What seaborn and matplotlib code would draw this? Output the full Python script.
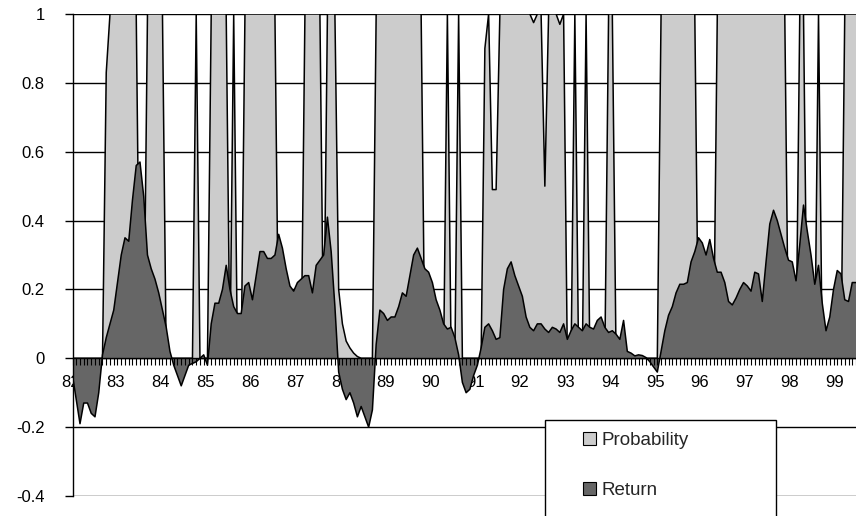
import numpy as np
import pandas as pd
import matplotlib
matplotlib.use("Agg")
import matplotlib.pyplot as plt
import seaborn as sns
from matplotlib.patches import Patch, Rectangle

sns.set_theme(style="white")
plt.rcParams['font.family'] = ['Liberation Sans', 'DejaVu Sans']

# Year labels shown along the category axis (one every 12 months, Jan 1982 onward)
year_labels = ["82", "83", "84", "85", "86", "87", "88", "89", "90",
               "91", "92", "93", "94", "95", "96", "97", "98", "99"]

# Monthly regime probability, Jan 1982 - Jun 1999
probability = [
    0, 0, 0, 0, 0, 0, 0, 0, 0, 0.83,                 # 0-9
    1, 1, 1, 1, 1, 1, 1, 1, 0, 0,                    # 10-19
    1, 1, 1, 1, 1, 0, 0, 0, 0, 0,                    # 20-29
    0, 0, 0, 1, 0, 0, 0, 1, 1, 1,                    # 30-39
    1, 1, 0, 1, 0, 0, 1, 1, 1, 1,                    # 40-49
    1, 1, 1, 1, 1, 0, 0, 0, 0, 0,                    # 50-59
    0, 0, 1, 1, 1, 1, 1, 0, 1, 1,                    # 60-69
    1, 0.2, 0.1, 0.05, 0.03, 0.015, 0.005, 0, 0, 0,  # 70-79
    0, 1, 1, 1, 1, 1, 1, 1, 1, 1,                    # 80-89
    1, 1, 1, 1, 0, 0, 0, 0, 0, 0,                    # 90-99
    1, 0, 0, 1, 0, 0, 0, 0, 0, 0,                    # 100-109
    0.9, 1, 0.49, 0.49, 1, 1, 1, 1, 1, 1,            # 110-119
    1, 1, 1, 0.975, 1, 1, 0.5, 1, 1, 1,              # 120-129
    0.97, 1, 0, 0, 1, 0, 0, 1, 0, 0,                 # 130-139
    0, 0, 0, 1, 1, 0, 0, 0, 0, 0,                    # 140-149
    0, 0, 0, 0, 0, 0, 0, 1, 1, 1,                    # 150-159
    1, 1, 1, 1, 1, 1, 1, 0, 0, 0,                    # 160-169
    0, 0, 1, 1, 1, 1, 1, 1, 1, 1,                    # 170-179
    1, 1, 1, 1, 1, 1, 1, 1, 1, 1,                    # 180-189
    1, 0, 0, 0, 1, 1, 0, 0, 0, 1,                    # 190-199
    0, 0, 0, 0, 0, 0, 1, 1, 1, 1,                    # 200-209
]

# Monthly return, same months
ret = [
    -0.05, -0.12, -0.19, -0.13, -0.13, -0.16, -0.17, -0.10, 0.01, 0.06,     # 0-9
    0.10, 0.14, 0.22, 0.30, 0.35, 0.34, 0.46, 0.56, 0.57, 0.47,             # 10-19
    0.30, 0.26, 0.23, 0.19, 0.14, 0.09, 0.02, -0.02, -0.05, -0.08,          # 20-29
    -0.05, -0.02, -0.015, -0.01, 0.0, 0.01, -0.02, 0.10, 0.16, 0.16,        # 30-39
    0.20, 0.27, 0.20, 0.15, 0.13, 0.13, 0.21, 0.22, 0.17, 0.24,             # 40-49
    0.31, 0.31, 0.29, 0.29, 0.30, 0.36, 0.32, 0.26, 0.21, 0.195,            # 50-59
    0.22, 0.23, 0.24, 0.24, 0.19, 0.27, 0.285, 0.30, 0.41, 0.31,            # 60-69
    0.15, -0.04, -0.09, -0.12, -0.10, -0.13, -0.17, -0.14, -0.17, -0.20,    # 70-79
    -0.15, 0.04, 0.14, 0.13, 0.11, 0.12, 0.12, 0.15, 0.19, 0.18,            # 80-89
    0.24, 0.30, 0.32, 0.29, 0.26, 0.25, 0.22, 0.17, 0.14, 0.10,             # 90-99
    0.085, 0.09, 0.06, 0.01, -0.07, -0.10, -0.09, -0.05, -0.02, 0.03,       # 100-109
    0.09, 0.10, 0.08, 0.055, 0.06, 0.20, 0.26, 0.28, 0.24, 0.21,            # 110-119
    0.18, 0.12, 0.09, 0.08, 0.10, 0.10, 0.085, 0.075, 0.09, 0.085,          # 120-129
    0.075, 0.10, 0.055, 0.08, 0.10, 0.09, 0.08, 0.10, 0.09, 0.085,          # 130-139
    0.11, 0.12, 0.09, 0.075, 0.08, 0.07, 0.055, 0.11, 0.02, 0.015,          # 140-149
    0.007, 0.01, 0.008, 0.002, -0.01, -0.025, -0.04, 0.02, 0.08, 0.125,     # 150-159
    0.15, 0.19, 0.215, 0.215, 0.22, 0.28, 0.31, 0.35, 0.335, 0.30,          # 160-169
    0.345, 0.29, 0.25, 0.25, 0.22, 0.165, 0.155, 0.175, 0.20, 0.22,         # 170-179
    0.21, 0.195, 0.25, 0.245, 0.165, 0.28, 0.39, 0.43, 0.40, 0.36,          # 180-189
    0.32, 0.285, 0.28, 0.225, 0.33, 0.445, 0.37, 0.30, 0.215, 0.27,         # 190-199
    0.16, 0.08, 0.12, 0.20, 0.255, 0.245, 0.17, 0.165, 0.22, 0.22,          # 200-209
]

y_ticks = [-0.4, -0.2, 0, 0.2, 0.4, 0.6, 0.8, 1.0]
y_tick_labels = ["-0.4", "-0.2", "0", "0.2", "0.4", "0.6", "0.8", "1"]

prob_color = "#cccccc"
ret_color = "#666666"

df = pd.DataFrame({
    "month": np.arange(len(probability)),
    "Probability": probability,
    "Return": ret,
})

W, H = 856, 516
fig = plt.figure(figsize=(W / 100, H / 100), dpi=100)
fig.patch.set_facecolor("white")
ax = fig.add_axes([72.5 / W, 20 / H, (W - 72.5) / W, 482 / H])
ax.set_facecolor("white")

# horizontal gridlines behind the areas
for yv in y_ticks:
    ax.axhline(yv, color="black", lw=1.0, zorder=0.5)

# probability area (back)
ax.fill_between(df["month"], 0, df["Probability"], facecolor=prob_color,
                edgecolor="none", zorder=1.0)
sns.lineplot(data=df, x="month", y="Probability", color="black", lw=1.1,
             ax=ax, zorder=1.1, legend=False)

# return area (front)
ax.fill_between(df["month"], 0, df["Return"], facecolor=ret_color,
                edgecolor="none", zorder=1.2)
sns.lineplot(data=df, x="month", y="Return", color="black", lw=1.1,
             ax=ax, zorder=1.3, legend=False)

ax.set_xlim(0, len(probability) - 1)
ax.set_ylim(-0.4, 1.0)
ax.set_xlabel("")
ax.set_ylabel("")

# category axis crossing at zero with monthly tick marks
for s in ["top", "right"]:
    ax.spines[s].set_visible(False)
ax.spines["bottom"].set_position(("data", 0))
ax.spines["bottom"].set_color("black")
ax.spines["bottom"].set_linewidth(1.0)
ax.spines["bottom"].set_zorder(3)
ax.spines["left"].set_color("black")
ax.spines["left"].set_linewidth(1.0)
ax.spines["left"].set_zorder(3)

ax.set_xticks([])
ax.set_xticks(np.arange(len(probability)), minor=True)
ax.tick_params(axis="x", which="minor", direction="out", length=5, width=0.8,
               color="black", bottom=True)
ax.xaxis.set_zorder(3)

# year labels sit under the axis, beneath the return area
for k, lab in enumerate(year_labels):
    ax.text(12 * k - 0.6, -0.07, lab, ha="center", va="center",
            fontsize=12, color="black", zorder=0.9)

ax.set_yticks(y_ticks)
ax.set_yticklabels(y_tick_labels)
ax.tick_params(axis="y", which="major", direction="out", length=6, width=1,
               color="black", left=True, pad=14, labelsize=12, labelcolor="black")

# legend box, running off the bottom edge
fig.add_artist(Rectangle((545 / W, -0.05), (776 - 545) / W, (516 - 420) / H + 0.05,
                         transform=fig.transFigure, facecolor="white",
                         edgecolor="black", lw=1.0, zorder=5))
handles = [Patch(facecolor=prob_color, edgecolor="black", lw=0.8, label="Probability"),
           Patch(facecolor=ret_color, edgecolor="black", lw=0.8, label="Return")]
leg = fig.legend(handles=handles, loc="upper left",
                 bbox_to_anchor=(583 / W, 1 - 432 / H), frameon=False,
                 fontsize=13.5, handlelength=0.7, handleheight=0.7,
                 handletextpad=0.3, labelspacing=1.75, borderpad=0,
                 borderaxespad=0)
leg.set_zorder(6)

fig.savefig("out.png", dpi=100, facecolor="white")
